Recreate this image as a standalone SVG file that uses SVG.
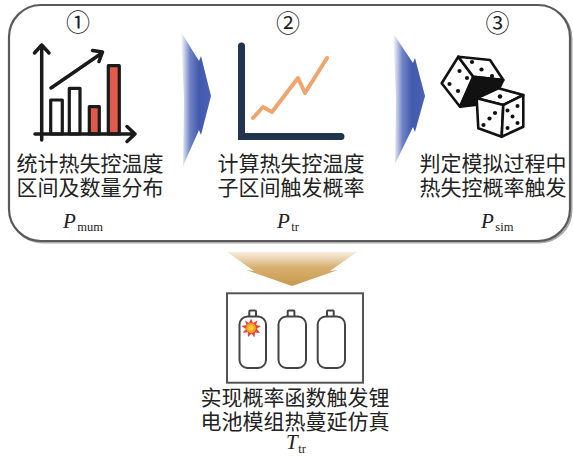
<svg xmlns="http://www.w3.org/2000/svg" width="573" height="462" viewBox="0 0 573 462">
  <defs>
    <style>
      .cn { font-family: "Noto Sans CJK SC", "Noto Sans", sans-serif; font-size: 21px; fill: #222; text-anchor: middle; }
      .num { font-family: "Noto Sans CJK SC", "DejaVu Sans", sans-serif; font-size: 24px; fill: #222; text-anchor: middle; }
      .var { font-family: "Liberation Serif", "Times New Roman", serif; font-style: italic; font-size: 21px; fill: #222; }
      .sub { font-family: "Liberation Serif", "Times New Roman", serif; font-size: 12.5px; fill: #222; }
      .ink { fill: none; stroke: #1a1a1a; stroke-width: 3.5; stroke-linecap: round; stroke-linejoin: round; }
      .bar { stroke: #1a1a1a; stroke-width: 3.2; stroke-linejoin: round; }
      .die { stroke: #111; stroke-width: 2.6; stroke-linejoin: round; }
      .pip { fill: #111; }
      .cell { fill: #fff; stroke: #444; stroke-width: 2; }
      .flow-blue { fill: url(#blueFade); }
    </style>
    <linearGradient id="blueFade" x1="0" y1="0" x2="1" y2="0">
      <stop offset="0" stop-color="#4a63b6" stop-opacity="0"/>
      <stop offset="0.3" stop-color="#4a63b6" stop-opacity="0.8"/>
      <stop offset="0.6" stop-color="#4259ac" stop-opacity="1"/>
      <stop offset="1" stop-color="#4a63b6" stop-opacity="1"/>
    </linearGradient>
    <linearGradient id="goldFade" x1="0" y1="0" x2="0" y2="1">
      <stop offset="0" stop-color="#dcb676" stop-opacity="0.25"/>
      <stop offset="0.45" stop-color="#d3a660" stop-opacity="0.9"/>
      <stop offset="1" stop-color="#c8994a"/>
    </linearGradient>
  </defs>

  <rect width="573" height="462" fill="#fff"/>

  <!-- rounded frame around the three steps -->
  <g id="frame">
    <rect x="10.5" y="6.5" width="561" height="236" rx="32" fill="none" stroke="#aaa" stroke-width="2"/>
    <rect x="9" y="5" width="561" height="236" rx="32" fill="#fff" stroke="#5a5a5a" stroke-width="2.2"/>
  </g>

  <!-- flow arrows between steps -->
  <g id="connectors">
    <polygon class="flow-blue" points="181,32 199,61 201,56 211,96 201,135 199,130 183,166 184,100"/>
    <polygon class="flow-blue" points="393,33 413,63 415,58 425,96 415,132 413,127 395,164 396,100"/>
    <polygon fill="url(#goldFade)" points="227,252 357,252 330,271 338,270 292,286 246,270 254,271"/>
  </g>

  <!-- step 1: statistics of thermal runaway temperatures -->
  <g id="step1">
    <text class="num" x="78" y="31">①</text>
    <g>
      <rect class="bar" x="50.7" y="100" width="11.6" height="34" fill="#fff"/>
      <rect class="bar" x="69.3" y="88.3" width="10.7" height="45.7" fill="#fff"/>
      <rect class="bar" x="89.3" y="106.7" width="10" height="27.3" fill="#e05a4b"/>
      <rect class="bar" x="108.3" y="65.7" width="11" height="68.3" fill="#e05a4b"/>
      <path class="ink" d="M41.7 140 V45 M34.5 53 L41.7 45 L49 53"/>
      <path class="ink" d="M35 134 H135 M127 126.5 L135 134 L127 141.5"/>
      <path class="ink" d="M51 88 L102 53 M92.5 50.5 L102.5 52 L99 61.5"/>
    </g>
    <text class="cn"><tspan x="90" y="171">统计热失控温度</tspan><tspan x="90" y="195">区间及数量分布</tspan></text>
    <text x="63" y="228"><tspan class="var">P</tspan><tspan class="sub" dx="1.5" dy="3">mum</tspan></text>
  </g>

  <!-- step 2: trigger probability of temperature sub-intervals -->
  <g id="step2">
    <text class="num" x="288" y="32">②</text>
    <path d="M241.5 46 V136.5 H341" fill="none" stroke="#22354f" stroke-width="7" stroke-linecap="round" stroke-linejoin="miter"/>
    <polyline points="253,118 263,107 272,112 298,78 305,93 327,58" fill="none" stroke="#f0a56e" stroke-width="4" stroke-linecap="round" stroke-linejoin="round"/>
    <text class="cn"><tspan x="291" y="171">计算热失控温度</tspan><tspan x="291" y="195">子区间触发概率</tspan></text>
    <text x="277" y="228"><tspan class="var">P</tspan><tspan class="sub" dx="1.5" dy="3">tr</tspan></text>
  </g>

  <!-- step 3: stochastic trigger decision -->
  <g id="step3">
    <text class="num" x="497.5" y="32">③</text>
    <g>
      <!-- back die -->
      <polygon class="die" points="441.7,83.3 458.3,56.7 473.3,76.7 460,106.7" fill="#fff"/>
      <polygon class="die" points="458.3,56.7 490,60 503.3,80 473.3,76.7" fill="#fff"/>
      <polygon class="die" points="473.3,76.7 503.3,80 492,103 460,106.7" fill="#111"/>
      <circle class="pip" cx="459.5" cy="71" r="2.1"/>
      <circle class="pip" cx="467" cy="78" r="2.1"/>
      <circle class="pip" cx="449.5" cy="84" r="2.1"/>
      <circle class="pip" cx="458" cy="91" r="2.1"/>
      <circle class="pip" cx="468.5" cy="95" r="2.1"/>
      <circle class="pip" cx="472" cy="62" r="2.1"/>
      <circle class="pip" cx="481.5" cy="69.5" r="2.1"/>
      <circle class="pip" cx="492" cy="76" r="2.1"/>
      <!-- front die -->
      <polygon class="die" points="476.7,98.3 498.3,88.3 523.3,95 503.3,105" fill="#fff"/>
      <polygon class="die" points="476.7,98.3 503.3,105 501.7,136.7 478.3,128.3" fill="#fff"/>
      <polygon class="die" points="503.3,105 523.3,95 523.3,126.7 501.7,136.7" fill="#fff"/>
      <circle class="pip" cx="500" cy="96.5" r="2.2"/>
      <circle class="pip" cx="495" cy="113" r="2.1"/>
      <circle class="pip" cx="489.5" cy="118.5" r="2.1"/>
      <circle class="pip" cx="483.5" cy="125" r="2.1"/>
      <circle class="pip" cx="507.5" cy="110.5" r="2"/>
      <circle class="pip" cx="517.5" cy="106" r="2"/>
      <circle class="pip" cx="512.5" cy="116.5" r="2"/>
      <circle class="pip" cx="507.5" cy="128" r="2"/>
      <circle class="pip" cx="517.5" cy="123" r="2"/>
    </g>
    <text class="cn"><tspan x="493" y="171">判定模拟过程中</tspan><tspan x="493" y="195">热失控概率触发</tspan></text>
    <text x="481" y="228"><tspan class="var">P</tspan><tspan class="sub" dx="1.5" dy="3">sim</tspan></text>
  </g>

  <!-- result: thermal propagation simulation of the battery module -->
  <g id="module">
    <rect x="227" y="293.3" width="136" height="89.4" fill="#fff" stroke="#555" stroke-width="2"/>
    <rect class="cell" x="249.3" y="310.5" width="6.7" height="6.5" rx="1"/>
    <rect class="cell" x="239.5" y="316.5" width="26.5" height="51.5" rx="8"/>
    <rect class="cell" x="287.7" y="310.5" width="6.7" height="6.5" rx="1"/>
    <rect class="cell" x="278.5" y="316.5" width="27.5" height="51.5" rx="8"/>
    <rect class="cell" x="327" y="310.5" width="6.7" height="6.5" rx="1"/>
    <rect class="cell" x="317.7" y="316.5" width="27.3" height="51.5" rx="8"/>
    <polygon fill="#e8443a" points="251,318.5 253,323 257.5,320.5 256,325 261,326 256.8,328.8 260,333 255,332.5 254.5,337.5 251.5,333.5 248,337 247.8,332.3 242.5,332.8 246,329 241.5,326 246.5,325 245,320.5 249,323"/>
    <circle cx="251" cy="328" r="5" fill="#f6a21e"/>
    <circle cx="251" cy="328" r="2.8" fill="#fbc93c"/>
    <text class="cn"><tspan x="295" y="405">实现概率函数触发锂</tspan><tspan x="295" y="429">电池模组热蔓延仿真</tspan></text>
    <text x="286" y="448.5"><tspan class="var" font-size="19">T</tspan><tspan class="sub" dx="0.5" dy="4">tr</tspan></text>
  </g>
</svg>
